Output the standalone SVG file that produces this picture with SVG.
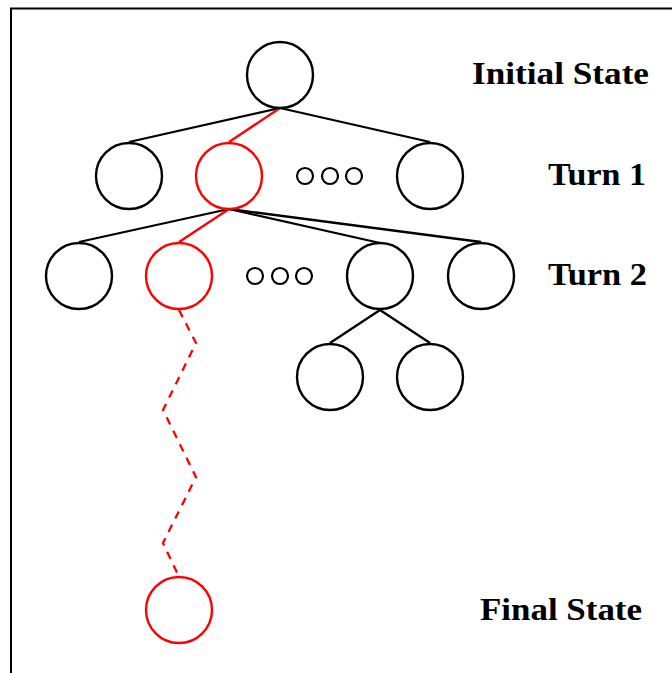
<svg xmlns="http://www.w3.org/2000/svg" width="672" height="673" viewBox="0 0 672 673">
<style>
.n{fill:#fff;stroke:#000;stroke-width:2.4}
.r{fill:#fff;stroke:#f00;stroke-width:2.4}
.d{fill:#fff;stroke:#000;stroke-width:2.2}
.e{stroke:#000;stroke-width:2.3;fill:none}
.er{stroke:#f00;stroke-width:2.3;fill:none}
.dash{stroke:#f00;stroke-width:2.3;fill:none;stroke-dasharray:8 7}
.t{font-family:"Liberation Serif",serif;font-size:31px;fill:#000}
.b{font-weight:bold}
</style>
<rect width="672" height="673" fill="#fff"/>
<path d="M11,673 V8.5 H672" fill="none" stroke="#000" stroke-width="2"/>
<g id="connectors">
<line class="e" x1="280" y1="108" x2="129" y2="142"/>
<line class="e" x1="280" y1="108" x2="430" y2="142"/>
<line class="er" x1="280" y1="108" x2="229" y2="142"/>
<line class="e" x1="229" y1="209" x2="79" y2="242"/>
<line class="e" x1="229" y1="209" x2="380" y2="243"/>
<line class="e" x1="229" y1="209" x2="481" y2="242"/>
<line class="er" x1="229" y1="209" x2="179" y2="242"/>
<line class="e" x1="380" y1="310" x2="330" y2="343"/>
<line class="e" x1="380" y1="310" x2="430" y2="343"/>
<polyline class="dash" points="179,310 196,343 163,410 196,477 163,543 179,577"/>
</g>
<g id="root"><ellipse class="n" cx="280" cy="75" rx="33" ry="33"/></g>
<g id="t1a"><ellipse class="n" cx="129" cy="176" rx="33" ry="33"/></g>
<g id="t1b"><ellipse class="r" cx="229" cy="176" rx="33" ry="33"/></g>
<g id="t1dots"><circle class="d" cx="305" cy="176" r="8"/><circle class="d" cx="330" cy="176" r="8"/><circle class="d" cx="354" cy="176" r="8"/></g>
<g id="t1c"><ellipse class="n" cx="430" cy="176" rx="33" ry="33"/></g>
<g id="t2a"><ellipse class="n" cx="79" cy="276" rx="33" ry="33"/></g>
<g id="t2b"><ellipse class="r" cx="179" cy="276" rx="33" ry="33"/></g>
<g id="t2dots"><circle class="d" cx="255" cy="276" r="8"/><circle class="d" cx="280" cy="276" r="8"/><circle class="d" cx="304" cy="276" r="8"/></g>
<g id="t2c"><ellipse class="n" cx="380" cy="276" rx="33" ry="33"/></g>
<g id="t2d"><ellipse class="n" cx="481" cy="276" rx="33" ry="33"/></g>
<g id="t3a"><ellipse class="n" cx="330" cy="377" rx="33" ry="33"/></g>
<g id="t3b"><ellipse class="n" cx="430" cy="377" rx="33" ry="33"/></g>
<g id="final"><ellipse class="r" cx="179" cy="610" rx="33" ry="33"/></g>
<g id="labels">
<text class="t b" x="472" y="84" textLength="177" lengthAdjust="spacingAndGlyphs">Initial State</text>
<text class="t b" x="548" y="185" textLength="98" lengthAdjust="spacingAndGlyphs">Turn 1</text>
<text class="t b" x="548" y="285" textLength="99" lengthAdjust="spacingAndGlyphs">Turn 2</text>
<text class="t b" x="480" y="620" textLength="162" lengthAdjust="spacingAndGlyphs">Final State</text>
</g>
</svg>
